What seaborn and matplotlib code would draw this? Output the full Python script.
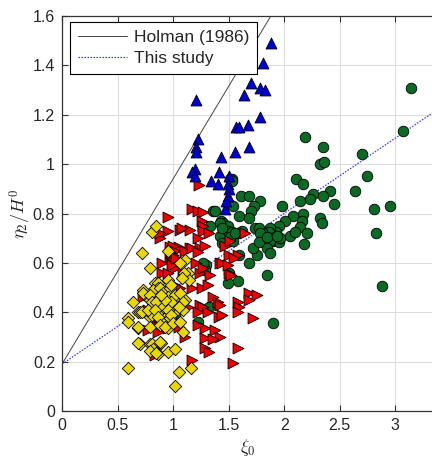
import numpy as np
import pandas as pd
import matplotlib
matplotlib.use("Agg")
import matplotlib.pyplot as plt
import seaborn as sns

# ---------------- data ----------------
blue_x = [1.88,1.81,1.70,1.64,1.78,1.83,1.21,1.78,1.57,1.59,1.67,1.22,1.21,1.21,1.68,1.56,1.43,
          1.20,1.17,1.20,1.41,1.34,1.40,1.50,1.49,1.50,1.49,1.47,1.48]
blue_y = [1.49,1.41,1.33,1.28,1.31,1.30,1.26,1.19,1.15,1.15,1.16,1.10,1.07,1.05,1.07,1.05,1.03,
          0.98,0.97,0.95,0.97,0.93,0.92,0.95,0.92,0.90,0.87,0.82,0.85]

green_x = [3.14,3.07,2.19,2.35,2.32,2.36,2.70,2.75,2.11,2.17,1.53,2.26,2.23,2.41,2.35,2.64,2.45,
           2.14,2.81,2.95,2.83,2.88,1.61,1.68,1.78,1.73,1.70,1.36,1.50,1.54,1.98,2.17,2.08,1.59,
           1.68,2.32,2.34,2.01,2.16,1.95,1.43,1.45,1.49,2.14,2.21,2.05,1.93,1.90,1.95,2.18,1.87,
           1.86,1.74,1.80,1.89,1.81,1.77,1.87,1.96,2.10,1.85,1.87,1.76,1.72,1.59,1.68,1.85,1.58,
           1.30,1.29,1.50,1.49,1.42,1.51,1.54,1.58,1.62,1.44,1.78,1.77,1.85,1.94,1.90,1.22,1.49,
           1.53,1.51,1.56,1.42,1.44,1.51,1.53,1.33,1.38,1.27,1.32,1.02]
green_y = [1.31,1.135,1.11,1.07,1.00,1.01,1.04,0.95,0.94,0.92,0.94,0.88,0.86,0.89,0.87,0.89,0.84,
           0.85,0.82,0.83,0.72,0.505,0.87,0.87,0.85,0.83,0.81,0.81,0.84,0.83,0.83,0.80,0.79,0.79,
           0.78,0.78,0.76,0.77,0.77,0.75,0.77,0.76,0.75,0.745,0.72,0.71,0.725,0.69,0.685,0.675,0.74,
           0.725,0.74,0.725,0.70,0.685,0.74,0.69,0.70,0.725,0.66,0.64,0.63,0.66,0.63,0.60,0.55,0.525,
           0.59,0.57,0.56,0.52,0.71,0.72,0.69,0.72,0.73,0.68,0.72,0.685,0.705,0.71,0.355,0.36,0.73,
           0.725,0.705,0.72,0.76,0.74,0.94,0.93,0.75,0.81,0.60,0.42,0.39]

red_x = [1.23,1.17,1.22,1.27,0.955,1.26,1.27,1.27,1.06,1.15,0.955,0.88,1.22,1.05,1.15,1.24,0.97,
         1.00,1.08,0.88,1.32,1.29,1.00,1.02,1.11,1.17,1.22,0.97,1.00,1.02,0.90,1.21,1.42,1.50,
         1.58,1.47,1.51,1.65,0.90,0.955,1.09,1.12,1.24,1.27,1.33,1.50,0.86,0.91,1.02,1.06,1.17,
         1.26,1.31,0.73,0.82,0.90,0.955,1.06,1.13,1.24,1.27,1.22,1.31,1.36,1.40,1.42,1.41,1.44,
         1.58,1.59,1.58,1.68,1.76,1.68,1.72,0.77,0.84,0.87,0.86,0.77,0.955,1.05,1.11,1.29,1.29,
         1.38,1.42,1.36,1.29,1.32,1.58,1.54,1.17,0.84,1.22,1.52,1.55,0.98,1.00,1.01,0.99,1.03,
         1.44,1.49]
red_y = [0.915,0.82,0.81,0.805,0.785,0.77,0.75,0.73,0.735,0.735,0.73,0.70,0.70,0.665,0.66,0.66,0.665,
         0.65,0.74,0.72,0.72,0.67,0.67,0.65,0.65,0.66,0.645,0.62,0.60,0.58,0.60,0.60,0.60,0.63,
         0.63,0.67,0.69,0.72,0.56,0.56,0.56,0.54,0.56,0.58,0.55,0.56,0.50,0.50,0.51,0.50,0.50,
         0.50,0.51,0.46,0.45,0.44,0.44,0.46,0.42,0.43,0.42,0.40,0.40,0.46,0.44,0.43,0.38,0.39,
         0.44,0.42,0.40,0.48,0.47,0.45,0.375,0.41,0.37,0.34,0.32,0.33,0.335,0.34,0.30,0.335,0.295,
         0.33,0.30,0.29,0.255,0.24,0.255,0.195,0.205,0.225,0.35,0.55,0.62,0.64,0.63,0.61,0.59,0.62,
         0.60,0.59]

yellow_x = [0.81,0.85,0.72,0.79,0.95,0.84,0.86,0.86,0.82,0.88,0.73,0.75,0.91,0.97,0.64,0.68,0.79,
            0.82,0.86,0.79,0.88,0.95,0.59,0.59,0.68,0.95,0.99,0.70,0.79,0.84,0.86,0.89,0.955,1.02,
            0.59,1.05,1.02,1.02,1.05,1.09,1.11,0.95,1.00,1.11,1.06,1.13,1.14,0.70,0.81,0.90,0.97,
            0.95,1.09,0.68,0.81,0.82,0.79,0.88,1.16,0.85,0.73,0.79,0.88,0.95,1.02,1.06,0.81,0.85,
            0.91,0.98,0.93,1.09,1.05,0.72,0.77,0.84,0.86,0.95,0.98,0.68,0.79,0.88,0.93,1.00,1.06,
            0.95,1.10,1.08,0.89,0.98]
yellow_y = [0.725,0.75,0.64,0.58,0.65,0.52,0.52,0.50,0.49,0.50,0.49,0.47,0.48,0.50,0.44,0.40,0.45,
            0.43,0.44,0.38,0.37,0.39,0.375,0.36,0.335,0.355,0.36,0.27,0.27,0.25,0.23,0.275,0.24,0.25,
            0.175,0.16,0.10,0.40,0.44,0.41,0.45,0.45,0.43,0.61,0.60,0.56,0.53,0.40,0.39,0.36,0.375,
            0.335,0.32,0.275,0.27,0.25,0.245,0.28,0.175,0.235,0.48,0.47,0.46,0.46,0.47,0.48,0.44,0.44,
            0.42,0.44,0.45,0.44,0.42,0.40,0.41,0.41,0.38,0.41,0.39,0.34,0.34,0.35,0.34,0.355,0.36,
            0.53,0.56,0.54,0.47,0.51]

# fitted lines: [slope, intercept]
holman_coef = [0.75, 0.19]
study_coef = [0.305, 0.19]
line_x = [0.0, 3.4]

x_ticks = [0, 0.5, 1, 1.5, 2, 2.5, 3]
y_ticks = [0, 0.2, 0.4, 0.6, 0.8, 1.0, 1.2, 1.4, 1.6]

# ---------------- style ----------------
sns.set_theme(style="white")
plt.rcParams['font.family'] = ['Liberation Sans', 'DejaVu Sans']
plt.rcParams['mathtext.fontset'] = 'cm'

fig = plt.figure(figsize=(4.32, 4.59), dpi=100)
ax = fig.add_axes([62/432, 48/459, (433-62)/432, (411-16)/459])

ax.grid(True, color="#dddddd", linewidth=0.8)
ax.set_axisbelow(True)

hl = pd.DataFrame({"x": line_x, "y": [holman_coef[0]*v + holman_coef[1] for v in line_x]})
sl = pd.DataFrame({"x": line_x, "y": [study_coef[0]*v + study_coef[1] for v in line_x]})
sns.lineplot(data=hl, x="x", y="y", ax=ax, color="#444444", linewidth=0.7, label="Holman (1986)")
sns.lineplot(data=sl, x="x", y="y", ax=ax, color="#3333ff", linewidth=0.9, linestyle=(0, (1.2, 1.2)),
             label="This study")

kw = dict(edgecolor="black", linewidth=0.6, legend=False, ax=ax, zorder=3)
sns.scatterplot(x=green_x, y=green_y, marker="o", s=58, color="#0b6b25", **kw)
sns.scatterplot(x=red_x, y=red_y, marker=">", s=62, color="#f00000", **kw)
sns.scatterplot(x=blue_x, y=blue_y, marker="^", s=62, color="#0000d8", **kw)
sns.scatterplot(x=yellow_x, y=yellow_y, marker="D", s=40, color="#e8d800", **kw)

ax.set_xlim(0, 3.34)
ax.set_ylim(0, 1.6)
ax.set_xticks(x_ticks)
ax.set_yticks(y_ticks)
ax.set_xticklabels([f"{v:g}" for v in x_ticks])
ax.set_yticklabels([f"{v:g}" for v in y_ticks])
ax.tick_params(direction="in", length=4, width=0.8, color="#333333", labelsize=11.5,
               top=True, right=False, bottom=True, left=True, pad=5)
for side in ["left", "bottom", "top"]:
    ax.spines[side].set_color("#333333")
    ax.spines[side].set_linewidth(0.9)
ax.spines["right"].set_visible(False)

ax.set_xlabel(r"$\xi_0$", fontsize=13, labelpad=3)
ax.set_ylabel(r"$\eta_2/H^0$", fontsize=13, labelpad=0)

leg = ax.legend(loc="upper left", bbox_to_anchor=(0.022, 0.985), frameon=True, fancybox=False,
                edgecolor="black", fontsize=12.5, handlelength=2.8, borderpad=0.45,
                labelspacing=0.35, handletextpad=0.4, borderaxespad=0)
leg.get_frame().set_linewidth(0.8)
leg.get_frame().set_alpha(1)

fig.savefig("out.png", dpi=100)
